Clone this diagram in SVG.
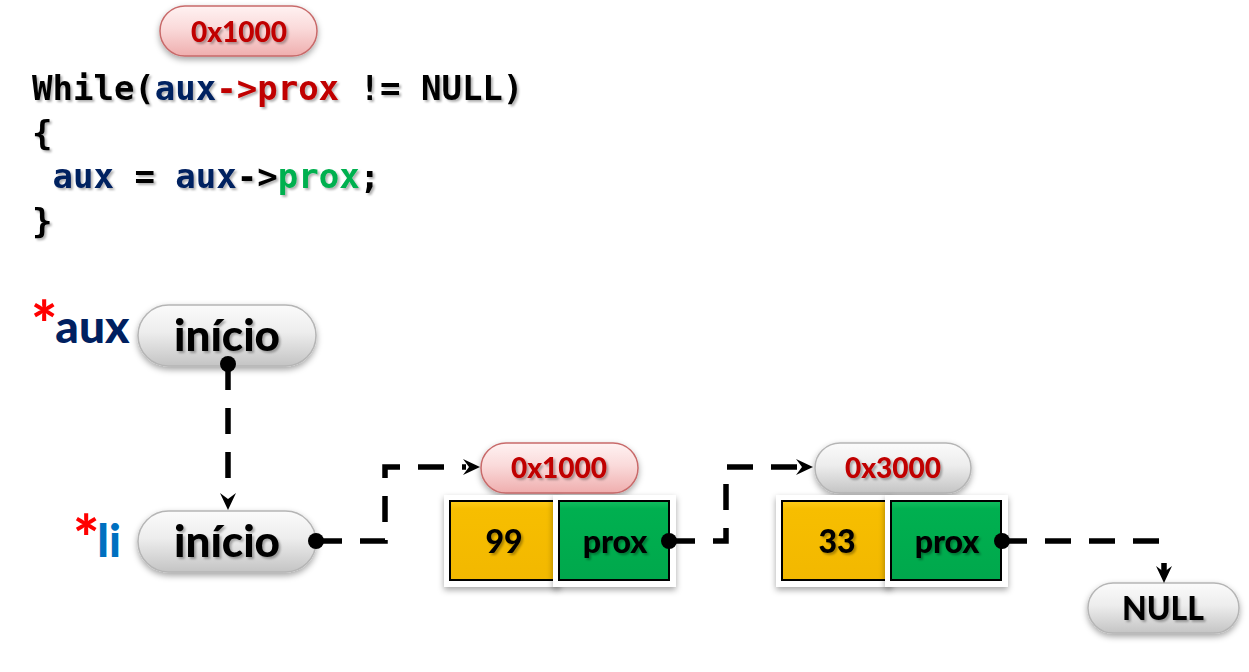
<svg xmlns="http://www.w3.org/2000/svg" xmlns:xlink="http://www.w3.org/1999/xlink" width="1249" height="672" viewBox="0 0 1249 672">
<defs>
  <linearGradient id="gGray" x1="0" y1="0" x2="0" y2="1">
    <stop offset="0" stop-color="#FBFBFB"/>
    <stop offset="0.45" stop-color="#EDEDED"/>
    <stop offset="1" stop-color="#C4C4C4"/>
  </linearGradient>
  <linearGradient id="gPink" x1="0" y1="0" x2="0" y2="1">
    <stop offset="0" stop-color="#FFF2F2"/>
    <stop offset="0.45" stop-color="#FADADA"/>
    <stop offset="1" stop-color="#EFAEAE"/>
  </linearGradient>
  <linearGradient id="gYellow" x1="0" y1="0" x2="0" y2="1">
    <stop offset="0" stop-color="#FFCC1A"/>
    <stop offset="0.1" stop-color="#F7BE00"/>
    <stop offset="1" stop-color="#F2B800"/>
  </linearGradient>
  <linearGradient id="gGreen" x1="0" y1="0" x2="0" y2="1">
    <stop offset="0" stop-color="#12C060"/>
    <stop offset="0.1" stop-color="#00B050"/>
    <stop offset="1" stop-color="#00A84C"/>
  </linearGradient>
  <filter id="sh" x="-10%" y="-20%" width="120%" height="150%">
    <feDropShadow dx="0" dy="3" stdDeviation="3" flood-color="#000" flood-opacity="0.35"/>
  </filter>
  <filter id="ts" x="-5%" y="-10%" width="115%" height="130%">
    <feDropShadow dx="2" dy="2" stdDeviation="1" flood-color="#000" flood-opacity="0.3"/>
  </filter>
  <path id="ah" d="M0,0 L-8,-17 L0,-11 L8,-17 Z"/>
  <style>
    .code { font-family: "DejaVu Sans Mono", "Liberation Mono", monospace; font-weight: bold; font-size: 34px; fill: #000; }
    .navy { fill: #002060; }
    .dred { fill: #C00000; }
    .grn { fill: #00B050; }
    .sans { font-family: Lato, "Open Sans", "Liberation Sans", sans-serif; font-weight: 900; }
    .pillG { fill: url(#gGray); stroke: #B5B5B5; stroke-width: 1.5; filter: url(#sh); }
    .pillP { fill: url(#gPink); stroke: #C86A6A; stroke-width: 1.5; filter: url(#sh); }
    .back { fill: #FFFFFF; filter: url(#sh); }
    .yel { fill: url(#gYellow); stroke: #000; stroke-width: 2; }
    .gr { fill: url(#gGreen); stroke: #000; stroke-width: 2; }
    .lbl { font-family: Lato, "Open Sans", "Liberation Sans", sans-serif; font-weight: 900; text-anchor: middle; filter: url(#ts); }
    .addr { font-size: 28px; fill: #C00000; }
    .big { font-size: 44px; fill: #000; }
    .cell { font-size: 32px; fill: #000; }
    .dash { fill: none; stroke: #000; stroke-width: 5.5; stroke-dasharray: 26 18; }
    .dot { fill: #000; }
  </style>
</defs>
<rect width="1249" height="672" fill="#FFFFFF"/>

<g id="addr-top">
  <rect class="pillP" x="160" y="6" width="157" height="50" rx="25"/>
  <text class="lbl addr" x="239" y="42">0x1000</text>
</g>

<g id="code" filter="url(#ts)">
  <text class="code" x="32" y="100">While(<tspan class="navy">aux</tspan><tspan class="dred">-&gt;prox</tspan> != NULL)</text>
  <text class="code" x="32" y="145">{</text>
  <text class="code" x="52.5" y="188"><tspan class="navy">aux</tspan> = <tspan class="navy">aux</tspan>-&gt;<tspan class="grn">prox</tspan>;</text>
  <text class="code" x="32" y="233">}</text>
</g>

<g id="aux-ptr">
  <text class="sans" x="31" y="343" font-size="46"><tspan fill="#FF0000" font-size="62" dy="4">*</tspan><tspan fill="#002060" dy="-4" dx="-2">aux</tspan></text>
  <rect class="pillG" x="138" y="305" width="178" height="61" rx="30.5"/>
  <text class="lbl big" x="227" y="351">início</text>
</g>

<g id="li-ptr">
  <text class="sans" x="73" y="557" font-size="46"><tspan fill="#FF0000" font-size="62" dy="4">*</tspan><tspan fill="#0070C0" dy="-4" dx="-2">li</tspan></text>
  <rect class="pillG" x="138" y="511" width="178" height="61" rx="30.5"/>
  <text class="lbl big" x="227" y="557">início</text>
</g>

<g id="node1">
  <rect class="pillP" x="481" y="443" width="157" height="50" rx="25"/>
  <text class="lbl addr" x="559" y="478">0x1000</text>
  <rect class="back" x="444" y="495" width="116" height="92"/>
  <rect class="yel" x="450" y="501" width="105" height="79"/>
  <text class="lbl cell" x="504" y="553">99</text>
  <rect class="back" x="553" y="495" width="123" height="92"/>
  <rect class="gr" x="559" y="501" width="110" height="79"/>
  <text class="lbl cell" x="615" y="553">prox</text>
</g>

<g id="node2">
  <rect class="pillG" x="815" y="443" width="156" height="50" rx="25"/>
  <text class="lbl addr" x="893" y="478">0x3000</text>
  <rect class="back" x="776" y="495" width="116" height="92"/>
  <rect class="yel" x="782" y="501" width="105" height="79"/>
  <text class="lbl cell" x="837" y="553">33</text>
  <rect class="back" x="885" y="495" width="123" height="92"/>
  <rect class="gr" x="891" y="501" width="110" height="79"/>
  <text class="lbl cell" x="947" y="553">prox</text>
</g>

<g id="null">
  <rect class="pillG" x="1088" y="583" width="151" height="50" rx="25"/>
  <text class="lbl" x="1163" y="620" font-size="32" fill="#000">NULL</text>
</g>

<g id="connectors">
  <path class="dash" d="M228,364 V496"/>
  <circle class="dot" cx="228" cy="364" r="8"/>
  <use xlink:href="#ah" transform="translate(228,510)"/>

  <path class="dash" d="M316,541 H385 V467 H466"/>
  <circle class="dot" cx="316" cy="541" r="8"/>
  <use xlink:href="#ah" transform="translate(480,467) rotate(-90)"/>

  <path class="dash" d="M669,541 H726 V467 H799"/>
  <circle class="dot" cx="669" cy="541" r="8"/>
  <use xlink:href="#ah" transform="translate(813,467) rotate(-90)"/>

  <path class="dash" d="M1001,541 H1159 M1164,563 V575"/>
  <circle class="dot" cx="1002" cy="541" r="8"/>
  <use xlink:href="#ah" transform="translate(1164,583)"/>
</g>
</svg>
